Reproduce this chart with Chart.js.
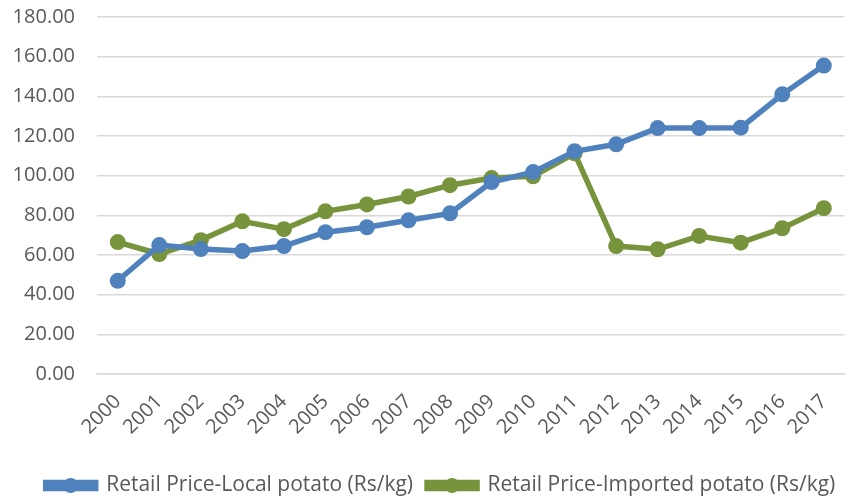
<!DOCTYPE html>
<html><head><meta charset="utf-8">
<script src="https://cdn.jsdelivr.net/npm/chart.js@4"></script>
<style>
html,body{margin:0;padding:0;background:#fff;overflow:hidden;}
#wrap{width:857px;height:515px;margin-top:-17px;position:relative;}
</style></head>
<body><div id="wrap"><canvas id="c"></canvas></div>
<script>
const years = ["2000","2001","2002","2003","2004","2005","2006","2007","2008","2009","2010","2011","2012","2013","2014","2015","2016","2017"];
const localPrice = [47, 65, 63, 62, 64.5, 71.5, 74, 77.5, 81, 96.8, 101.8, 112.3, 115.8, 124, 124, 124.2, 141, 155.5];
const importedPrice = [66.5, 60.5, 67.5, 77, 73, 82, 85.5, 89.5, 95.2, 98.8, 99.7, 111.3, 64.5, 62.9, 69.6, 66.2, 73.5, 83.6];
const seriesNames = ["Retail Price-Local potato (Rs/kg)", "Retail Price-Imported potato (Rs/kg)"];
const colors = ["#4f81bd", "#77933c"];
const FONT = "'Open Sans', sans-serif";

const legendShift = {
  id: 'legendShift',
  afterLayout(chart) {
    const lg = chart.legend;
    if (!lg) return;
    lg.left += 12; lg.right += 12;
    lg.top += 8; lg.bottom += 8;
  }
};

const legendMarkers = {
  id: 'legendMarkers',
  afterDraw(chart) {
    const lg = chart.legend;
    if (!lg || !lg.legendHitBoxes) return;
    const ctx = chart.ctx;
    const bw = lg.options.labels.boxWidth;
    lg.legendHitBoxes.forEach((hb, i) => {
      const cx = hb.left + bw / 2;
      const cy = hb.top + hb.height / 2;
      ctx.save();
      ctx.fillStyle = colors[i];
      ctx.beginPath();
      ctx.arc(cx, cy, 7.5, 0, Math.PI * 2);
      ctx.fill();
      ctx.restore();
    });
  }
};

new Chart(document.getElementById('c'), {
  type: 'line',
  data: {
    labels: years,
    datasets: [
      { label: seriesNames[0], data: localPrice, borderColor: colors[0], backgroundColor: colors[0],
        borderWidth: 5.5, pointRadius: 8, pointBackgroundColor: colors[0], pointBorderColor: colors[0], pointBorderWidth: 0, tension: 0 },
      { label: seriesNames[1], data: importedPrice, borderColor: colors[1], backgroundColor: colors[1],
        borderWidth: 5.5, pointRadius: 8, pointBackgroundColor: colors[1], pointBorderColor: colors[1], pointBorderWidth: 0, tension: 0 }
    ]
  },
  options: {
    responsive: true,
    maintainAspectRatio: false,
    animation: false,
    devicePixelRatio: 1,
    layout: { padding: { top: 0, right: 0, left: 0, bottom: 0 } },
    plugins: {
      tooltip: { enabled: false },
      legend: {
        position: 'bottom',
        labels: {
          boxWidth: 50, boxHeight: 6, padding: 14,
          color: '#595959',
          font: { family: FONT, size: 21 }
        }
      }
    },
    scales: {
      x: {
        offset: true,
        grid: { display: false, drawTicks: false },
        border: { display: true, color: '#d9d9d9', width: 1.5 },
        ticks: { color: '#595959', font: { family: FONT, size: 20 }, minRotation: 45, maxRotation: 45, padding: 16 },
        afterFit(s) { s.height = 79; }
      },
      y: {
        min: 0, max: 180,
        grid: { color: '#d9d9d9', lineWidth: 1.5, drawTicks: false },
        border: { display: false },
        ticks: { stepSize: 20, color: '#595959', font: { family: FONT, size: 20 }, padding: 22,
          callback: v => Number(v).toFixed(2) },
        afterFit(s) { s.width = 97; }
      }
    }
  },
  plugins: [legendShift, legendMarkers]
});
</script></body></html>
